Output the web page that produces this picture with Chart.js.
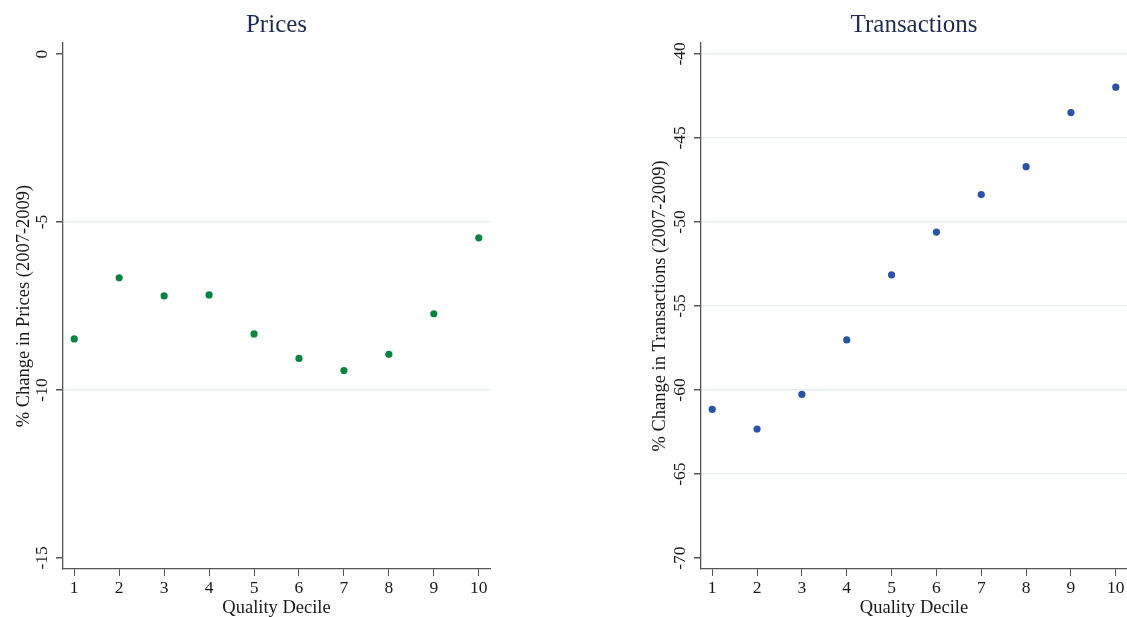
<!DOCTYPE html>
<html>
<head>
<meta charset="utf-8">
<script src="https://cdn.jsdelivr.net/npm/chart.js@4/dist/chart.umd.min.js"></script>
<style>
  html, body { margin: 0; padding: 0; background: #fff; }
  #wrap { position: relative; width: 1127px; height: 617px; }
  .panel { position: absolute; top: 0; }
</style>
</head>
<body>
<div id="wrap">
  <div class="panel" style="left:0"><canvas id="prices-chart" width="560" height="617"></canvas></div>
  <div class="panel" style="left:560px"><canvas id="transactions-chart" width="567" height="617"></canvas></div>
</div>
<script>
const deciles = [1, 2, 3, 4, 5, 6, 7, 8, 9, 10];
const priceChanges = [-8.48, -6.66, -7.2, -7.17, -8.33, -9.06, -9.42, -8.94, -7.73, -5.47];
const transactionChanges = [-61.15, -62.32, -60.26, -57.02, -53.15, -50.6, -48.37, -46.71, -43.49, -41.98];

const priceTicks = [0, -5, -10, -15];
const priceGridTicks = [-5, -10];
const transactionTicks = [-40, -45, -50, -55, -60, -65, -70];
const transactionGridTicks = [-40, -45, -50, -55, -60, -65];

const SERIF = '"Liberation Serif", "Times New Roman", serif';
const TEXT_COLOR = '#1a1a1a';
const AXIS_COLOR = '#555555';
const GRID_COLOR = '#e3eef1';

Chart.defaults.font.family = SERIF;
Chart.defaults.color = TEXT_COLOR;

// y tick labels are drawn rotated, centred on their tick
const rotatedYTicks = {
  id: 'rotatedYTicks',
  afterDraw(chart) {
    const scale = chart.scales.y;
    const ctx = chart.ctx;
    ctx.save();
    ctx.font = '17.5px ' + SERIF;
    ctx.fillStyle = TEXT_COLOR;
    ctx.textAlign = 'center';
    ctx.textBaseline = 'middle';
    scale.ticks.forEach((tick) => {
      ctx.save();
      ctx.translate(scale.right - 21, scale.getPixelForValue(tick.value));
      ctx.rotate(-Math.PI / 2);
      ctx.fillText(String(tick.value), 0, 0);
      ctx.restore();
    });
    ctx.restore();
  },
};

function createScatterChart(canvasId, cfg) {
  const points = deciles.map((d, i) => ({ x: d, y: cfg.values[i] }));

  return new Chart(document.getElementById(canvasId), {
    type: 'scatter',
    data: {
      datasets: [
        {
          data: points,
          backgroundColor: cfg.color,
          borderWidth: 0,
          pointRadius: 3.6,
        },
      ],
    },
    options: {
      responsive: false,
      animation: false,
      layout: {
        autoPadding: false,
        padding: { left: cfg.padLeft, right: cfg.padRight, top: 0, bottom: 0 },
      },
      plugins: {
        legend: { display: false },
        tooltip: { enabled: false },
        title: {
          display: true,
          text: cfg.title,
          fullSize: false,
          color: '#1e2b52',
          font: { size: 25, weight: 'normal', lineHeight: 1.2 },
          padding: { top: 10, bottom: 3 },
        },
      },
      scales: {
        x: {
          type: 'linear',
          min: 0.75,
          max: 10.25,
          afterBuildTicks: (scale) => {
            scale.ticks = deciles.map((v) => ({ value: v }));
          },
          afterFit: (scale) => {
            scale.height = 48;
            scale.paddingLeft = 0;
            scale.paddingRight = 0;
          },
          grid: {
            drawOnChartArea: false,
            drawTicks: true,
            tickLength: 7,
            tickColor: AXIS_COLOR,
          },
          border: { color: AXIS_COLOR, width: 1.3 },
          ticks: {
            padding: 2,
            maxRotation: 0,
            font: { size: 17.5 },
            color: TEXT_COLOR,
          },
          title: {
            display: true,
            text: 'Quality Decile',
            font: { size: 18.5, lineHeight: 1 },
            padding: { top: 0, bottom: 0 },
            color: TEXT_COLOR,
          },
        },
        y: {
          type: 'linear',
          min: cfg.yMin,
          max: cfg.yMax,
          afterBuildTicks: (scale) => {
            scale.ticks = cfg.ticks.map((v) => ({ value: v }));
          },
          afterFit: (scale) => {
            scale.width = cfg.yWidth;
          },
          grid: {
            color: (ctx) => (ctx.tick && cfg.gridTicks.includes(ctx.tick.value) ? GRID_COLOR : 'rgba(0,0,0,0)'),
            lineWidth: 1.5,
            drawTicks: true,
            tickLength: 7,
            tickColor: AXIS_COLOR,
          },
          border: { color: AXIS_COLOR, width: 1.3 },
          ticks: { display: false },
          title: {
            display: true,
            text: cfg.yTitle,
            font: { size: 18.5, lineHeight: 1.2 },
            padding: { top: 13, bottom: 0 },
            color: TEXT_COLOR,
          },
        },
      },
    },
    plugins: [rotatedYTicks],
  });
}

createScatterChart('prices-chart', {
  title: 'Prices',
  yTitle: '% Change in Prices (2007-2009)',
  values: priceChanges,
  ticks: priceTicks,
  gridTicks: priceGridTicks,
  yMin: -15.33,
  yMax: 0.33,
  color: '#0a8442',
  padLeft: 0,
  padRight: 70,
  yWidth: 63,
});

createScatterChart('transactions-chart', {
  title: 'Transactions',
  yTitle: '% Change in Transactions (2007-2009)',
  values: transactionChanges,
  ticks: transactionTicks,
  gridTicks: transactionGridTicks,
  yMin: -70.65,
  yMax: -39.35,
  color: '#2a52a6',
  padLeft: 76,
  padRight: 0,
  yWidth: 65,
});
</script>
</body>
</html>
